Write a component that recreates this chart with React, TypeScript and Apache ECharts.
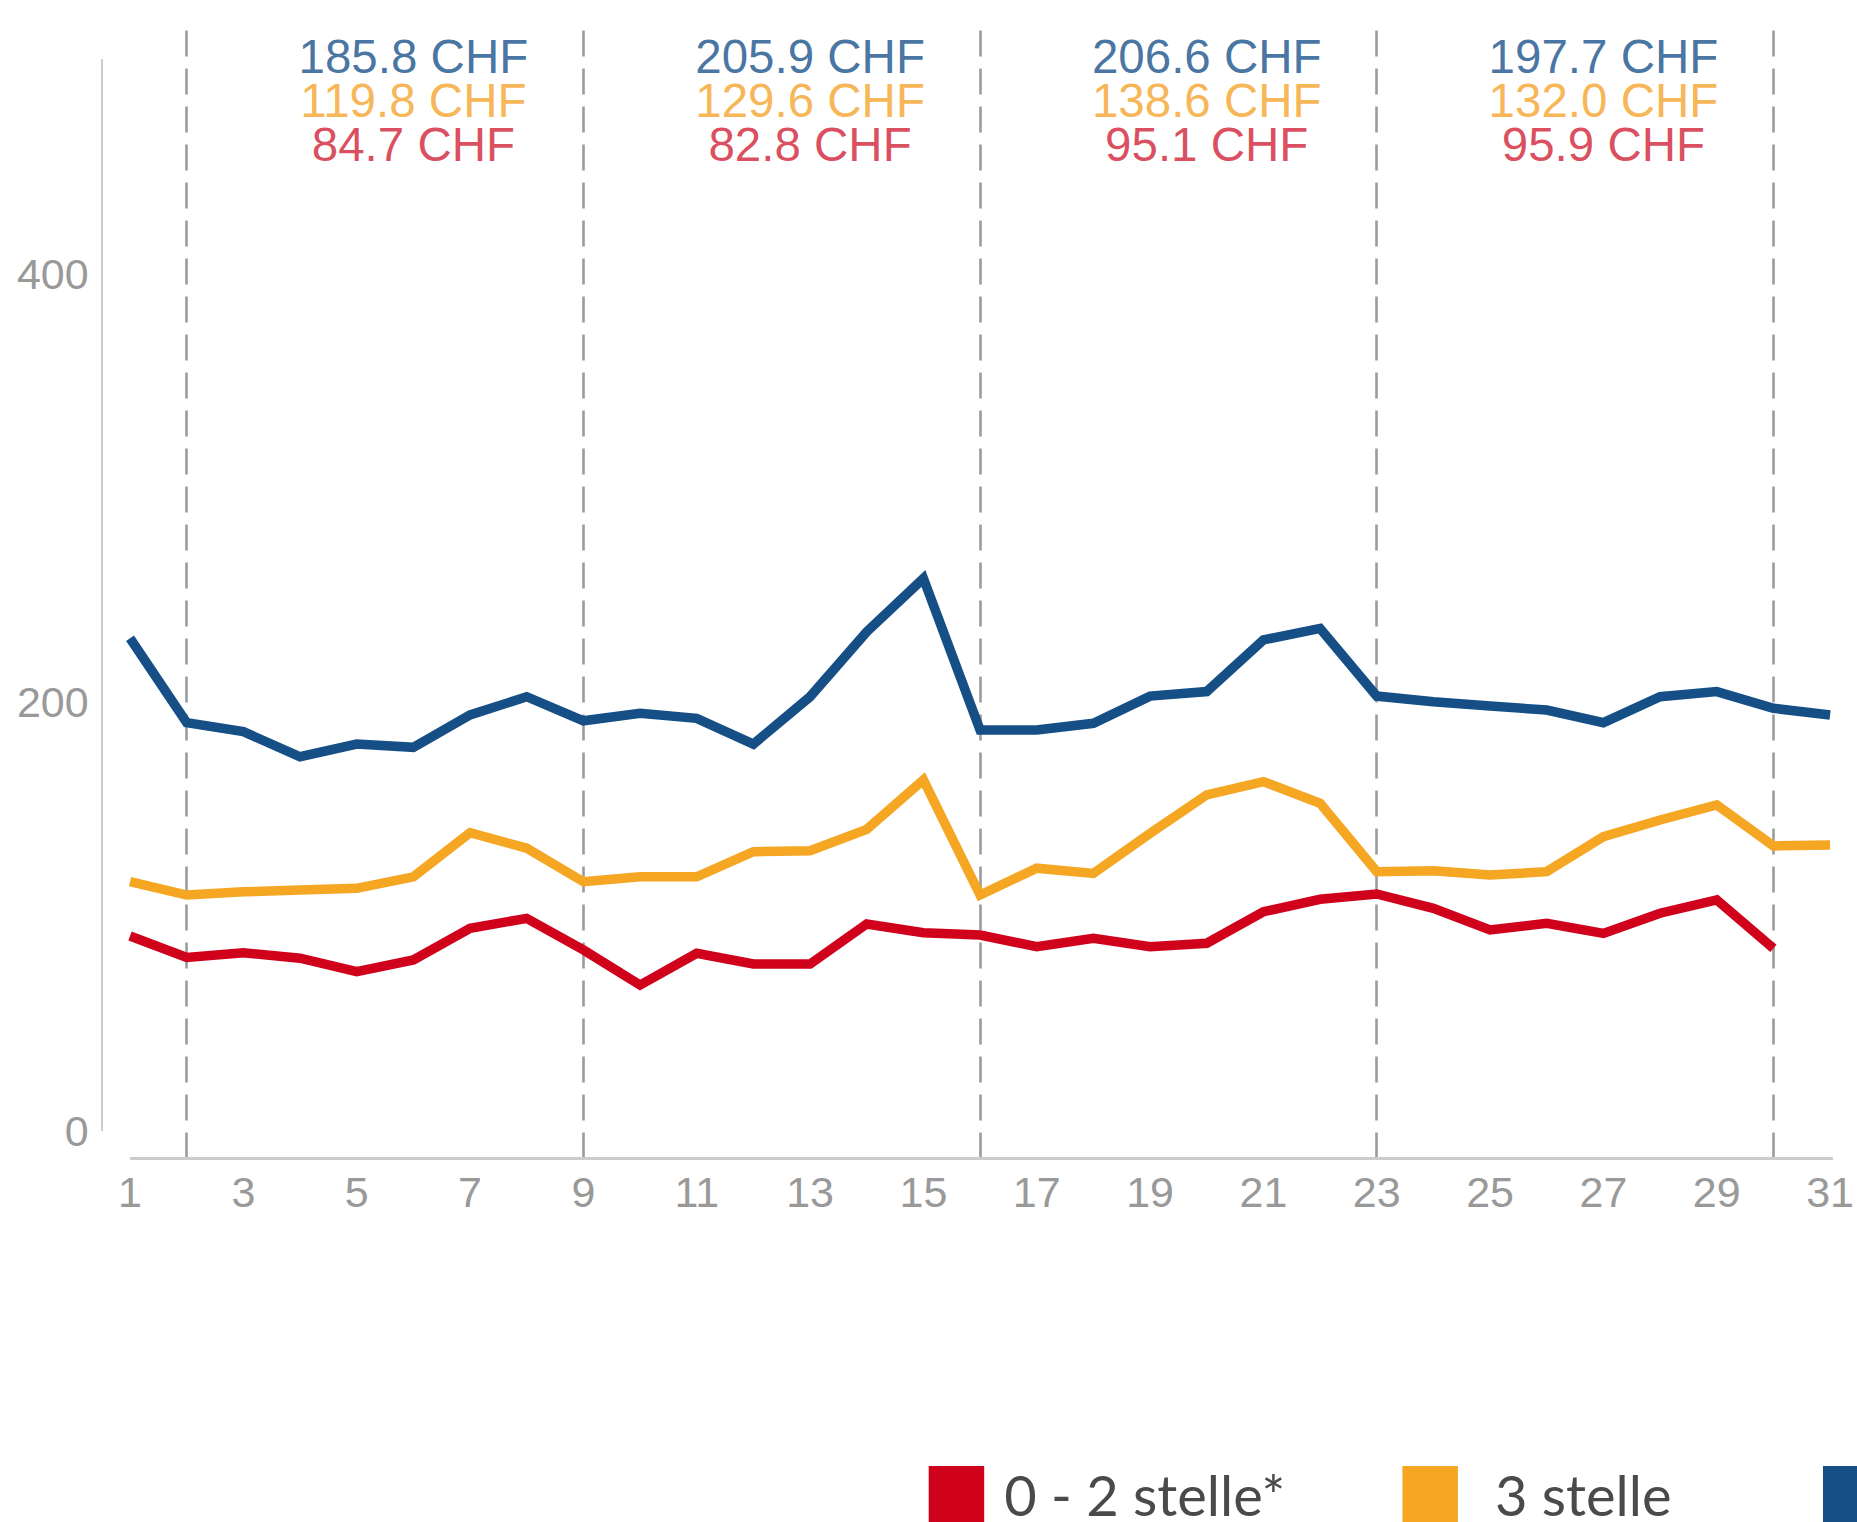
import React, { useEffect, useRef } from "react";
import * as echarts from "echarts";

// ---- data ----
const days = [1, 2, 3, 4, 5, 6, 7, 8, 9, 10, 11, 12, 13, 14, 15, 16, 17, 18, 19, 20, 21, 22, 23, 24, 25, 26, 27, 28, 29, 30, 31];
const xTickLabels = [1, 3, 5, 7, 9, 11, 13, 15, 17, 19, 21, 23, 25, 27, 29, 31];
const yTickLabels = [0, 200, 400];

const seriesNames = ["0 - 2 stelle*", "3 stelle", "4 - 5 stelle"];

const redValues = [91.0, 81.0, 83.2, 80.6, 74.3, 79.8, 94.6, 99.2, 84.5, 68.1, 82.9, 77.9, 77.9, 96.6, 92.5, 91.4, 86.0, 89.9, 86.0, 87.6, 102.3, 108.1, 110.6, 103.9, 93.8, 96.9, 92.2, 101.6, 107.8, 85.2];
const orangeValues = [116.3, 110.1, 111.6, 112.4, 113.2, 118.6, 139.2, 131.9, 116.3, 118.6, 118.6, 130.3, 130.8, 140.7, 163.8, 110.1, 122.6, 120.2, 138.9, 156.8, 163.0, 152.9, 121.0, 121.4, 119.4, 121.0, 137.3, 145.1, 152.1, 133.0, 133.4];
const blueValues = [229.9, 190.5, 186.3, 174.6, 180.5, 179.0, 194.1, 202.6, 191.4, 194.9, 192.5, 180.5, 202.6, 232.9, 257.8, 187.1, 187.1, 190.2, 202.9, 205.0, 229.1, 234.5, 202.9, 200.3, 198.3, 196.4, 190.5, 202.6, 205.0, 197.2, 194.1];

// week boundaries (dashed lines) and weekly averages
const weekStartDays = [2, 9, 16, 23, 30];
const weekLabelDays = [6, 13, 20, 27];
const weekBlue = [185.8, 205.9, 206.6, 197.7];
const weekOrange = [119.8, 129.6, 138.6, 132.0];
const weekRed = [84.7, 82.8, 95.1, 95.9];

// ---- styles ----
const RED = "#d0021b";
const ORANGE = "#f5a623";
const BLUE = "#154f86";
const RED_TEXT = "#d01f36";
const BLUE_TEXT = "#17508a";
const ORANGE_TEXT = "#f5a42a";
const AXIS_TEXT = "#999999";
const FONT = "Liberation Sans";

const X_MIN = 0.5;
const X_MAX = 31.05;
const Y_MIN = -12.83;
const Y_MAX = 514.6;
const Y_AXIS_TOP = 500;
const LABEL_ROW_Y = 480.6;

function buildOption() {
  const legendCommon = {
    orient: "horizontal",
    icon: "rect",
    itemWidth: 55.5,
    itemHeight: 56,
    padding: 0,
    top: 1466,
    selectedMode: false,
    itemStyle: { borderWidth: 0 },
  };
  const legendText = (padLeft: number) => ({
    fontFamily: "Lato",
    fontSize: 56,
    color: "#4a4a4a",
    padding: [0, 0, 0, padLeft],
  });

  const lineCommon = {
    type: "line",
    symbol: "none",
    showSymbol: false,
    lineStyle: { width: 9.5, join: "miter", miterLimit: 10, cap: "butt" },
    emphasis: { disabled: true },
    silent: true,
  };

  const labelRich = (color: string) => ({
    color,
    fontSize: 47.5,
    lineHeight: 44,
    fontFamily: FONT,
    align: "center",
  });

  return {
    animation: false,
    backgroundColor: "#ffffff",
    grid: { left: 101.7, right: 23.7, top: 28, bottom: 363.5, containLabel: false },
    xAxis: {
      type: "value",
      min: X_MIN,
      max: X_MAX,
      axisLine: { show: false },
      axisTick: { show: false },
      splitLine: { show: false },
      axisLabel: {
        customValues: xTickLabels,
        margin: 12,
        color: AXIS_TEXT,
        fontFamily: FONT,
        fontSize: 43,
      },
    },
    yAxis: {
      type: "value",
      min: Y_MIN,
      max: Y_MAX,
      axisLine: { show: false },
      axisTick: { show: false },
      splitLine: { show: false },
      axisLabel: {
        customValues: yTickLabels,
        margin: 13,
        color: AXIS_TEXT,
        fontFamily: FONT,
        fontSize: 43,
      },
    },
    legend: [
      { ...legendCommon, left: 928.7, data: [seriesNames[0]], textStyle: legendText(15) },
      { ...legendCommon, left: 1402.4, data: [seriesNames[1]], textStyle: legendText(32) },
      { ...legendCommon, left: 1823, data: [seriesNames[2]], textStyle: legendText(15) },
    ],
    series: [
      {
        ...lineCommon,
        name: seriesNames[0],
        color: RED,
        z: 3,
        data: redValues.map((v, i) => [days[i], v]),
      },
      {
        ...lineCommon,
        name: seriesNames[1],
        color: ORANGE,
        z: 3,
        data: orangeValues.map((v, i) => [days[i], v]),
        markLine: {
          silent: true,
          symbol: "none",
          z: 1,
          animation: false,
          label: { show: false },
          emphasis: { disabled: true },
          data: [
            ...weekStartDays.map((d) => ({
              xAxis: d,
              lineStyle: { color: "#9c9c9c", width: 2.6, type: [26, 12] },
            })),
            [
              { coord: [X_MIN, 0], lineStyle: { color: "#cccccc", width: 2, type: "solid" } },
              { coord: [X_MIN, Y_AXIS_TOP] },
            ],
            [
              { coord: [days[0], Y_MIN], lineStyle: { color: "#cccccc", width: 3, type: "solid" } },
              { coord: [X_MAX, Y_MIN] },
            ],
          ],
        },
      },
      {
        ...lineCommon,
        name: seriesNames[2],
        color: BLUE,
        z: 3,
        data: blueValues.map((v, i) => [days[i], v]),
      },
      {
        type: "scatter",
        silent: true,
        symbolSize: 1,
        itemStyle: { color: "rgba(0,0,0,0)" },
        z: 4,
        data: weekLabelDays.map((d) => [d, LABEL_ROW_Y]),
        label: {
          show: true,
          position: "inside",
          formatter: (p: any) =>
            `{b|${weekBlue[p.dataIndex].toFixed(1)} CHF}\n{o|${weekOrange[p.dataIndex].toFixed(1)} CHF}\n{r|${weekRed[p.dataIndex].toFixed(1)} CHF}`,
          rich: {
            b: labelRich(BLUE_TEXT),
            o: labelRich(ORANGE_TEXT),
            r: labelRich(RED_TEXT),
          },
        },
      },
    ],
  };
}

export default function App() {
  const ref = useRef<HTMLDivElement>(null);
  useEffect(() => {
    if (!ref.current) return;
    const chart = echarts.init(ref.current, null, { renderer: "svg" });
    chart.setOption(buildOption() as any);
    return () => chart.dispose();
  }, []);
  return (
    <div
      ref={ref}
      style={{ position: "absolute", left: 0, top: 0, width: 1857, height: 1522, background: "#ffffff" }}
    />
  );
}
